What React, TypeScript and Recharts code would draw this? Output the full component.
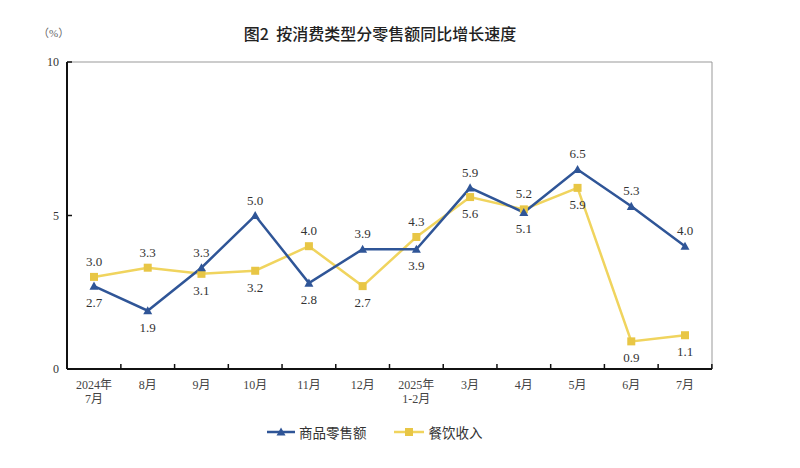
import React from "react";
import {
  LineChart,
  Line,
  XAxis,
  YAxis,
  ReferenceLine,
  LabelList,
  Legend,
} from "recharts";

const categories = [
  "2024年\n7月",
  "8月",
  "9月",
  "10月",
  "11月",
  "12月",
  "2025年\n1-2月",
  "3月",
  "4月",
  "5月",
  "6月",
  "7月",
];
const goodsRetail = [2.7, 1.9, 3.3, 5.0, 2.8, 3.9, 3.9, 5.9, 5.1, 6.5, 5.3, 4.0];
const cateringIncome = [3.0, 3.3, 3.1, 3.2, 4.0, 2.7, 4.3, 5.6, 5.2, 5.9, 0.9, 1.1];
const yTicks = [0, 5, 10];

const data = categories.map((c, i) => ({
  month: c,
  goods: goodsRetail[i],
  catering: cateringIncome[i],
}));

const BLUE = "#2f5597";
const YELLOW_LINE = "#f0d45e";
const YELLOW_MARK = "#e8c645";
const SERIF = '"Liberation Serif", "Noto Sans CJK SC", serif';
const CJK = '"Noto Sans CJK SC", sans-serif';

// plot geometry used for decorative boundary tick marks
const PLOT_WIDTH = 645;
const X_PAD = 27;
const HALF_STEP = (PLOT_WIDTH - 2 * X_PAD) / (categories.length - 1) / 2;

const TriangleDot = (props: any) => {
  const { cx, cy, index } = props;
  if (cx == null || cy == null) return <g key={`t-${index}`} />;
  const s = 4.5;
  return (
    <polygon
      key={`t-${index}`}
      points={`${cx},${cy - s} ${cx - s},${cy + s * 0.8} ${cx + s},${cy + s * 0.8}`}
      fill={BLUE}
    />
  );
};

const SquareDot = (props: any) => {
  const { cx, cy, index } = props;
  if (cx == null || cy == null) return <g key={`s-${index}`} />;
  const s = 4;
  return (
    <rect
      key={`s-${index}`}
      x={cx - s}
      y={cy - s}
      width={s * 2}
      height={s * 2}
      fill={YELLOW_MARK}
    />
  );
};

const makeLabel = (own: number[], other: number[]) => (props: any) => {
  const { x, y, index, value } = props;
  const above = own[index] >= other[index];
  return (
    <text
      x={x}
      y={above ? y - 11 : y + 21}
      textAnchor="middle"
      fontFamily={SERIF}
      fontSize={13}
      fill="#333"
    >
      {Number(value).toFixed(1)}
    </text>
  );
};

const XTick = (props: any) => {
  const { x, y, payload } = props;
  const lines = String(payload.value).split("\n");
  const bx = x + HALF_STEP;
  return (
    <g>
      <line x1={bx} y1={y} x2={bx} y2={y - 5} stroke="#111" strokeWidth={1.5} />
      {lines.map((l, i) => (
        <text
          key={i}
          x={x}
          y={y + 20 + i * 14}
          textAnchor="middle"
          fontFamily={SERIF}
          fontSize={12}
          fill="#444"
        >
          {l}
        </text>
      ))}
    </g>
  );
};

const YTick = (props: any) => {
  const { x, y, payload } = props;
  return (
    <g>
      <line x1={x + 8} y1={y} x2={x + 13} y2={y} stroke="#111" strokeWidth={1.5} />
      <text
        x={x}
        y={y + 4}
        textAnchor="end"
        fontFamily={SERIF}
        fontSize={12}
        fill="#333"
      >
        {payload.value}
      </text>
    </g>
  );
};

const LegendContent = () => (
  <div
    style={{
      display: "flex",
      alignItems: "center",
      height: 20,
      fontFamily: CJK,
      fontSize: 13.5,
      color: "#333",
      whiteSpace: "nowrap",
    }}
  >
    <svg width={28} height={12}>
      <line x1={0} y1={6} x2={28} y2={6} stroke={BLUE} strokeWidth={2.5} />
      <polygon points="14,1.5 9.5,9.6 18.5,9.6" fill={BLUE} />
    </svg>
    <span style={{ marginLeft: 4 }}>商品零售额</span>
    <svg width={30} height={12} style={{ marginLeft: 27 }}>
      <line x1={0} y1={6} x2={30} y2={6} stroke={YELLOW_LINE} strokeWidth={2.5} />
      <rect x={11} y={2} width={8} height={8} fill={YELLOW_MARK} />
    </svg>
    <span style={{ marginLeft: 5 }}>餐饮收入</span>
  </div>
);

export default function App() {
  return (
    <div
      style={{
        position: "absolute",
        left: 0,
        top: 0,
        width: 800,
        height: 468,
        background: "#fff",
      }}
    >
      <div
        style={{
          position: "absolute",
          left: 38,
          top: 24,
          fontFamily: SERIF,
          fontSize: 11,
          color: "#666",
        }}
      >
        （%）
      </div>
      <div
        style={{
          position: "absolute",
          left: 0,
          width: 760,
          top: 21,
          textAlign: "center",
          fontFamily: CJK,
          fontSize: 16,
          fontWeight: 500,
          color: "#222",
        }}
      >
        图2&nbsp;&nbsp;按消费类型分零售额同比增长速度
      </div>
      <LineChart
        width={800}
        height={468}
        data={data}
        margin={{ top: 62, right: 88, left: 27, bottom: 26 }}
      >
        <XAxis
          xAxisId="cat"
          dataKey="month"
          type="category"
          padding={{ left: X_PAD, right: X_PAD }}
          tickLine={false}
          tickSize={0}
          tickMargin={0}
          height={53}
          interval={0}
          tick={<XTick />}
          axisLine={{ stroke: "#111", strokeWidth: 2 }}
        />
        <YAxis
          yAxisId="main"
          type="number"
          domain={[0, 10]}
          ticks={yTicks}
          width={40}
          tickLine={false}
          tickSize={0}
          tickMargin={8}
          axisLine={{ stroke: "#111", strokeWidth: 2 }}
          tick={<YTick />}
        />
        <YAxis
          yAxisId="frame"
          orientation="right"
          type="number"
          domain={[0, 10]}
          mirror
          tick={false}
          tickLine={false}
          axisLine={{ stroke: "#999", strokeWidth: 1 }}
        />
        <ReferenceLine
          y={10}
          xAxisId="cat"
          yAxisId="main"
          stroke="#999"
          strokeWidth={1}
        />
        <Legend
          verticalAlign="bottom"
          content={<LegendContent />}
          wrapperStyle={{ left: 267, width: 260 }}
        />
        <Line
          xAxisId="cat"
          yAxisId="main"
          dataKey="catering"
          name="餐饮收入"
          stroke={YELLOW_LINE}
          strokeWidth={2.5}
          dot={SquareDot}
          activeDot={false}
          isAnimationActive={false}
        >
          <LabelList dataKey="catering" content={makeLabel(cateringIncome, goodsRetail)} />
        </Line>
        <Line
          xAxisId="cat"
          yAxisId="main"
          dataKey="goods"
          name="商品零售额"
          stroke={BLUE}
          strokeWidth={2.5}
          dot={TriangleDot}
          activeDot={false}
          isAnimationActive={false}
        >
          <LabelList dataKey="goods" content={makeLabel(goodsRetail, cateringIncome)} />
        </Line>
      </LineChart>
    </div>
  );
}
